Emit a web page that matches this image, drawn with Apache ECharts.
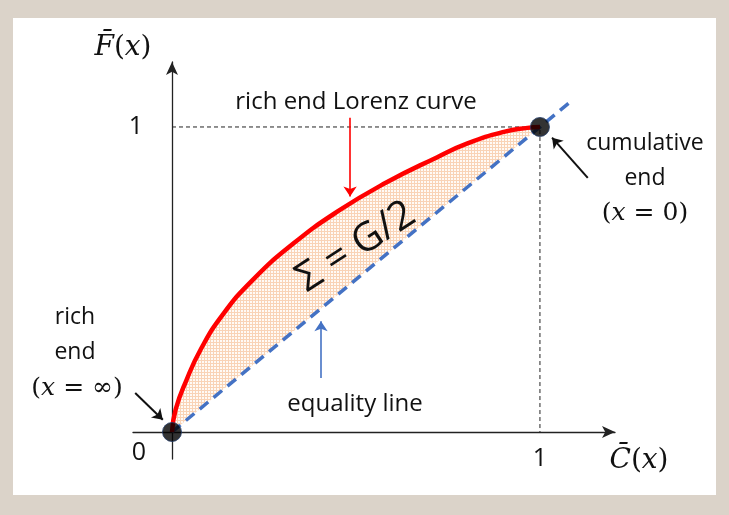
<!DOCTYPE html>
<html>
<head>
<meta charset="utf-8">
<script src="https://cdn.jsdelivr.net/npm/echarts@6/dist/echarts.min.js"></script>
<style>
  html, body { margin: 0; padding: 0; background: #dbd3c9; }
  #main { width: 729px; height: 515px; }
</style>
</head>
<body>
<div id="main"></div>
<script>
// Lorenz curve (rich end)
var curveX = [0, 0.010, 0.0385, 0.079, 0.138, 0.219, 0.328, 0.450, 0.581, 0.721, 0.803, 0.902, 0.966, 1];
var curveY = [0, 0.074, 0.168, 0.273, 0.385, 0.498, 0.616, 0.723, 0.817, 0.901, 0.946, 0.984, 0.997, 1];
// equality line
var equalX = [0, 1.085];
// end points
var endX = [0, 1];
var endY = [0, 1];
// tick labels
var xTicks = [1];
var yTicks = [1];

var sans = 'Open Sans';
var serif = 'DejaVu Serif';

// hatch pattern for the area between the curves
var hatch = document.createElement('canvas');
hatch.width = 3; hatch.height = 3;
var hc = hatch.getContext('2d');
hc.fillStyle = '#fffaf5';
hc.fillRect(0, 0, 3, 3);
hc.fillStyle = '#f9d3b6';
hc.fillRect(0, 0, 3, 1);
hc.fillRect(0, 0, 1, 3);

var curve = curveX.map(function (x, i) { return [x, curveY[i]]; });
var equal = equalX.map(function (x) { return [x, x]; });
var ends = endX.map(function (x, i) { return [x, endY[i]]; });

var chart = echarts.init(document.getElementById('main'));

function mathRich(size) {
  return {
    n: { fontFamily: serif, fontSize: size, color: '#111' },
    i: { fontFamily: serif, fontSize: size, fontStyle: 'italic', color: '#111' }
  };
}

function txt(x, y, text, size, richSize) {
  return {
    type: 'text', x: x, y: y, z: 50,
    style: {
      text: text, fill: '#111', font: size + 'px "' + sans + '"',
      textAlign: 'center', textVerticalAlign: 'middle', verticalAlign: 'middle',
      rich: mathRich(richSize || size)
    }
  };
}

function arrow(p1, p2, color, width) {
  return [
    { coord: p1, lineStyle: { color: color, width: width, type: 'solid' } },
    { coord: p2 }
  ];
}

chart.setOption({
  backgroundColor: '#dbd3c9',
  animation: false,
  grid: { left: 133, top: 62, width: 482, height: 397 },
  xAxis: {
    type: 'value', min: -0.106, max: 1.204,
    splitLine: { show: false },
    axisTick: { show: false },
    axisLine: { onZero: true, symbol: ['none', 'arrow'], symbolSize: [9, 13],
      lineStyle: { color: '#222', width: 1.3 } },
    axisLabel: { customValues: xTicks, fontFamily: sans, fontSize: 25, color: '#111', margin: -13 }
  },
  yAxis: {
    type: 'value', min: -0.0885, max: 1.213,
    splitLine: { show: false },
    axisTick: { show: false },
    axisLine: { onZero: true, symbol: ['none', 'arrow'], symbolSize: [9, 13],
      lineStyle: { color: '#222', width: 1.3 } },
    axisLabel: { customValues: yTicks, fontFamily: sans, fontSize: 25, color: '#111', margin: -10 }
  },
  graphic: [
    { type: 'rect', shape: { x: 13, y: 18, width: 703, height: 477 }, style: { fill: '#ffffff' }, z: -10 },
    txt(123, 48, '{i|F\u0304}{n|(}{i|x}{n|)}', 28),
    txt(639, 461, '{i|C\u0304}{n|(}{i|x}{n|)}', 28),
    txt(139, 453, '0', 25),
    txt(356, 102, 'rich end Lorenz curve', 24),
    txt(355, 404, 'equality line', 24),
    txt(645, 143, 'cumulative', 23),
    txt(645, 178, 'end', 23),
    txt(645, 213, '{n|(}{i|x}{n| = 0)}', 23, 25),
    txt(75, 317, 'rich', 23),
    txt(75, 352, 'end', 23),
    txt(77, 388, '{n|(}{i|x}{n| = \u221E)}', 23, 25),
    {
      type: 'text', x: 356, y: 247, z: 50, rotation: 33 * Math.PI / 180,
      style: { text: '\u03A3 = G/2', fill: '#111', font: '40px "' + sans + '"',
        textAlign: 'center', textVerticalAlign: 'middle', verticalAlign: 'middle' }
    }
  ],
  series: [
    {
      type: 'custom', z: 1, silent: true,
      data: [0],
      renderItem: function (params, api) {
        var pts = curve.map(function (p) { return api.coord(p); });
        pts.push(api.coord([0, 0]));
        return { type: 'polygon', shape: { points: pts },
          style: { fill: { image: hatch, repeat: 'repeat' }, stroke: null } };
      }
    },
    {
      type: 'line', z: 2, data: [[0, 1], [1, 1], [1, 0]], symbol: 'none', silent: true,
      lineStyle: { color: '#222', width: 1, type: [4, 3] }
    },
    {
      type: 'line', z: 3, data: equal, symbol: 'none', silent: true,
      lineStyle: { color: '#4472c4', width: 3.5, type: [11, 7] }
    },
    {
      type: 'line', z: 4, data: curve, symbol: 'none', smooth: 0.5, silent: true,
      lineStyle: { color: '#ff0000', width: 4.5 },
      markLine: {
        silent: true, symbol: ['none', 'arrow'], symbolSize: 10, label: { show: false },
        data: [
          arrow([0.484, 1.03], [0.484, 0.772], '#ff0000', 1.6),
          arrow([0.405, 0.177], [0.405, 0.363], '#4472c4', 1.6),
          arrow([-0.1, 0.128], [-0.025, 0.04], '#111', 2),
          arrow([1.13, 0.833], [1.033, 0.965], '#111', 2)
        ]
      }
    },
    {
      type: 'scatter', z: 5, data: ends, symbolSize: 19, silent: true,
      itemStyle: { color: '#000', borderColor: '#1f3864', borderWidth: 1 }
    }
  ]
});
</script>
</body>
</html>
